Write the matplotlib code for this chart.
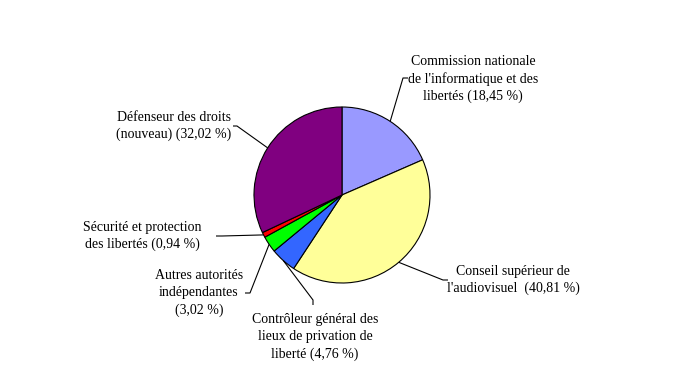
import numpy as np
import matplotlib
matplotlib.use("Agg")
import matplotlib.pyplot as plt

# Data
labels = [
    "Commission nationale\nde l'informatique et des\nlibertés (18,45 %)",
    "Conseil supérieur de\nl'audiovisuel  (40,81 %)",
    "Contrôleur général des\nlieux de privation de\nliberté (4,76 %)",
    "Autres autorités\nindépendantes\n(3,02 %)",
    "Sécurité et protection\ndes libertés (0,94 %)",
    "Défenseur des droits\n(nouveau) (32,02 %)",
]
shares = [18.45, 40.81, 4.76, 3.02, 0.94, 32.02]
colors = ["#9999FF", "#FFFF99", "#3366FF", "#00FF00", "#FF0000", "#800080"]

W, H = 685, 387
fig = plt.figure(figsize=(W / 100, H / 100), dpi=100)
ax = fig.add_axes([0, 0, 1, 1])


def py(y):
    # pixel row (top-down) -> data y
    return H - y


cx, cy, r = 342, 195, 88
wedges, _ = ax.pie(shares, colors=colors, startangle=90, counterclock=False,
                   center=(cx, py(cy)), radius=r, frame=True,
                   wedgeprops=dict(edgecolor="black", linewidth=0.8))
ax.set_xlim(0, W)
ax.set_ylim(0, H)
ax.axis("off")

# layout: (elbow point, end point, text center) in pixels
layout = [
    ((403, 78), (408, 78), (473, 79)),
    ((443, 280), (448, 280), (513, 280)),
    ((313, 300), (313, 305), (315, 337)),
    ((250, 293), (245, 293), (199, 293)),
    ((222, 236), (216, 236), (142, 236)),
    ((237, 126), (233, 126), (174, 126)),
]

for w, lab, (elb, end, tc) in zip(wedges, labels, layout):
    ang = np.deg2rad((w.theta1 + w.theta2) / 2)
    x0 = cx + r * np.cos(ang)
    y0 = py(cy) + r * np.sin(ang)
    ax.plot([x0, elb[0], end[0]], [y0, py(elb[1]), py(end[1])],
            color="black", lw=0.8, solid_capstyle="butt")
    ax.text(tc[0], py(tc[1]), lab, ha="center", va="center", multialignment="center",
            family="Liberation Serif", fontsize=10, linespacing=1.4)

fig.savefig("out.png", dpi=100)
